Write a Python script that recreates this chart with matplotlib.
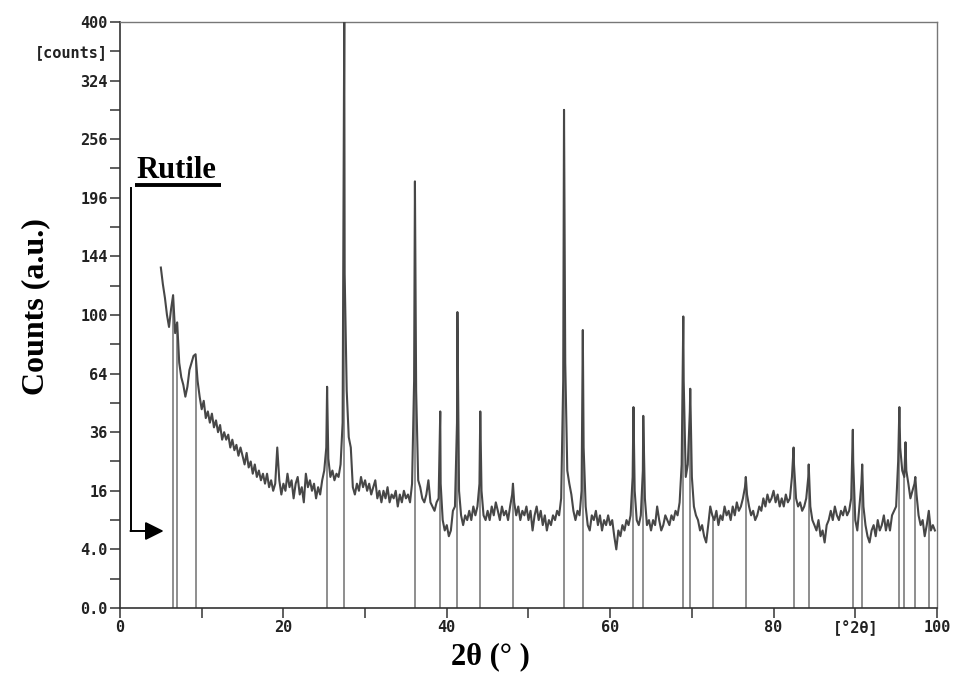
import numpy as np
import matplotlib
matplotlib.use("Agg")
import matplotlib.pyplot as plt

# ---------------- data ----------------
# background scan on a 0.25 deg grid from 5.0 to 99.75 deg 2theta (counts)
scan_start = 5.0
scan_step = 0.25
scan_counts = [
    135, 122, 112, 100, 92, 104, 114, 88, 95, 70, 62, 58, 52, 57, 66, 70, 74, 75, 60, 52,      # 5
    46, 50, 42, 45, 40, 44, 38, 41, 36, 39, 33, 36, 33, 35, 30, 33, 29, 31, 27, 30,             # 10
    27, 24, 28, 23, 25, 21, 24, 20, 22, 19, 21, 18, 21, 17, 19, 16, 18, 30, 19, 15,             # 15
    18, 16, 21, 17, 19, 14, 18, 20, 15, 17, 13, 21, 17, 19, 16, 18, 14, 17, 15, 19,             # 20
    22, 30, 26, 20, 22, 19, 21, 20, 24, 40, 130, 55, 34, 30, 17, 15, 18, 16, 20, 17,            # 25
    19, 16, 18, 15, 17, 19, 14, 16, 13, 16, 14, 17, 13, 15, 14, 16, 12, 15, 13, 16,             # 30
    14, 15, 13, 18, 60, 55, 19, 17, 14, 13, 15, 19, 13, 12, 11, 13, 14, 18, 9, 7,               # 35
    8, 6, 7, 11, 12, 40, 16, 10, 8, 10, 9, 11, 9, 12, 10, 12, 18, 16, 10, 9,                    # 40
    11, 9, 12, 10, 13, 11, 9, 12, 10, 11, 9, 12, 15, 13, 10, 12, 9, 11, 10, 12,                 # 45
    9, 11, 7, 10, 12, 9, 11, 8, 10, 7, 9, 8, 10, 9, 11, 10, 14, 60, 70, 22,                     # 50
    18, 15, 11, 9, 11, 10, 16, 30, 12, 8, 7, 10, 9, 11, 8, 10, 7, 9, 8, 10,                     # 55
    8, 9, 6, 4, 7, 6, 8, 7, 9, 8, 10, 20, 16, 9, 8, 10, 22, 14, 8, 9,                           # 60
    7, 9, 8, 12, 9, 7, 8, 10, 9, 8, 10, 9, 11, 10, 13, 24, 60, 20, 24, 45,                      # 65
    20, 12, 10, 9, 7, 8, 6, 5, 8, 12, 10, 9, 11, 8, 10, 9, 12, 10, 11, 9,                       # 70
    12, 10, 13, 11, 12, 14, 17, 15, 12, 10, 11, 9, 10, 12, 11, 14, 12, 15, 13, 14,              # 75
    16, 13, 15, 12, 14, 12, 15, 13, 14, 20, 24, 14, 12, 13, 11, 12, 14, 20, 12, 9,              # 80
    8, 7, 9, 6, 7, 5, 8, 9, 11, 9, 12, 10, 9, 11, 10, 12, 10, 11, 14, 25,                       # 85
    9, 7, 12, 18, 12, 8, 6, 5, 7, 8, 6, 9, 7, 8, 10, 7, 9, 7, 10, 11,                           # 90
    12, 25, 30, 22, 20, 22, 18, 14, 16, 18, 15, 10, 8, 9, 6, 8, 11, 7, 8, 7,                    # 95
]

# sharp peak maxima (deg 2theta, counts)
peak_pos = [25.35, 27.45, 36.1, 39.2, 41.3, 44.1, 48.1, 54.35, 56.65, 62.85, 64.05,
            68.95, 69.8, 76.6, 82.45, 84.3, 89.7, 90.85, 95.4, 96.15, 97.35]
peak_top = [57, 400, 212, 45, 102, 45, 18, 289, 90, 47, 43,
            99, 56, 20, 30, 24, 37, 24, 47, 32, 20]

# reference (Rutile) stick positions, deg 2theta
stick_pos = [6.5, 7.0, 9.3, 25.35, 27.45, 36.1, 39.2, 41.3, 44.1, 48.1, 54.35, 56.65,
             62.85, 64.05, 68.95, 69.8, 72.6, 76.6, 82.45, 84.3, 89.7, 90.85, 95.4,
             96.0, 97.3, 99.0]

# axis ticks
xtick_values = [0, 10, 20, 30, 40, 50, 60, 70, 80, 90, 100]
xtick_labels = ["0", "", "20", "", "40", "", "60", "", "80", "[°2θ]", "100"]
ytick_values = [k * k for k in range(21)]
ytick_labels = ["0.0", "", "4.0", "", "16", "", "36", "", "64", "", "100", "",
                "144", "", "196", "", "256", "", "324", "[counts]", "400"]

# ---------------- build curve ----------------
scan_x = scan_start + scan_step * np.arange(len(scan_counts))
x_all = np.concatenate([scan_x, np.array(peak_pos, float)])
y_all = np.concatenate([np.array(scan_counts, float), np.array(peak_top, float)])
order = np.argsort(x_all, kind="stable")
x_all = x_all[order]
y_all = y_all[order]

# ---------------- figure ----------------
fig = plt.figure(figsize=(9.6, 6.76), dpi=100)
ax = fig.add_axes([0.125, 0.1006, 0.851, 0.8669])

fwd = lambda v: np.sqrt(np.clip(v, 0, None))
inv = lambda v: np.square(v)
ax.set_yscale("function", functions=(fwd, inv))

stick_h = np.interp(stick_pos, x_all, y_all)
ax.vlines(stick_pos, 0, stick_h, colors="#707070", linewidth=1.1, zorder=2)
ax.plot(x_all, y_all, color="#474747", linewidth=1.5, zorder=3)

ax.set_xlim(0, 100)
ax.set_ylim(0, 400)

mono = dict(family="DejaVu Sans Mono", weight="bold", size=11)
ax.set_xticks(xtick_values)
ax.set_xticklabels(xtick_labels, fontdict=mono, color="#222222")
ax.set_yticks(ytick_values)
ax.set_yticklabels(ytick_labels, fontdict=mono, color="#222222")
ax.minorticks_off()
ax.tick_params(axis="both", direction="out", length=7, width=1.1, color="#333333")
ax.tick_params(axis="y", pad=2)
ax.tick_params(axis="x", pad=2)

for side in ["left", "bottom"]:
    ax.spines[side].set_color("#333333")
    ax.spines[side].set_linewidth(1.2)
for side in ["top", "right"]:
    ax.spines[side].set_color("#777777")
    ax.spines[side].set_linewidth(1.0)

serif = dict(family="Liberation Serif", weight="bold")
ax.set_ylabel("Counts (a.u.)", fontsize=23, **serif)
ax.yaxis.set_label_coords(-0.085, 0.515)
ax.set_xlabel("2θ (° )", fontsize=22, **serif)
ax.xaxis.set_label_coords(0.453, -0.058)

# "Rutile" annotation with bracket arrow
ax.text(0.020, 0.733, "Rutile", transform=ax.transAxes, fontsize=22,
        ha="left", va="baseline", **serif)
ax.plot([0.018, 0.124], [0.722, 0.722], transform=ax.transAxes, color="black",
        linewidth=2.8, clip_on=False, solid_capstyle="butt")
ax.plot([0.0135, 0.0135], [0.716, 0.1314], transform=ax.transAxes, color="black",
        linewidth=1.4, clip_on=False)
ax.annotate("", xy=(0.0535, 0.1314), xytext=(0.0128, 0.1314),
            xycoords="axes fraction", textcoords="axes fraction",
            arrowprops=dict(arrowstyle="-|>", mutation_scale=28, color="black",
                            lw=1.4, shrinkA=0, shrinkB=0))

fig.savefig("out.png", dpi=100, facecolor="white")
